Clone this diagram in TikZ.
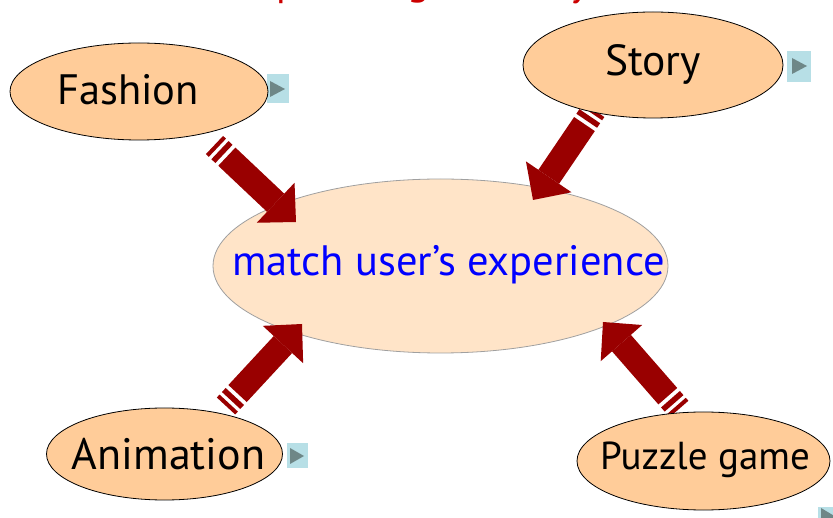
\documentclass[tikz,border=0pt]{standalone}
\usepackage{fontspec}
\setmainfont{PT Sans}
\usetikzlibrary{arrows.meta,shapes.geometric}
\definecolor{peach}{RGB}{255,204,153}
\definecolor{centrefill}{RGB}{255,228,200}
\definecolor{centreline}{RGB}{160,160,160}
\definecolor{arrowred}{RGB}{153,0,0}
\definecolor{btnblue}{RGB}{183,223,230}
\definecolor{btntri}{RGB}{110,135,135}
\definecolor{titlered}{RGB}{204,0,0}
\begin{document}
\begin{tikzpicture}[x=1pt,y=-1pt,
  outer/.style={ellipse, draw=black, line width=0.8pt, fill=peach, inner sep=0pt},
  centre/.style={ellipse, draw=centreline, line width=0.8pt, fill=centrefill, inner sep=0pt},
  lbl/.style={anchor=base, inner sep=0pt, text=black},
  stripearrow/.style={draw=arrowred, line width=25pt,
     dash pattern=on 4pt off 3.5pt on 5.5pt off 4pt on 600pt off 0pt,
     -{Triangle[line width=0pt, width=55pt, length=28pt, fill=arrowred]}},
  btn/.style={fill=btnblue},
  btnarrow/.style={fill=btntri},
  titlefrag/.style={anchor=base west, inner sep=0pt, text=titlered, font=\fontsize{41}{41}\selectfont}]
\useasboundingbox (0,0) rectangle (833,518);
\fill[white] (0,0) rectangle (833,518);

% title fragments (cut off at the top edge)
\node[titlefrag] (t1) at (276,-4) {p};
\node[titlefrag] (t2) at (407,-5) {g};
\node[titlefrag] (t3) at (570,-4) {y};

% centre ellipse
\node[centre, minimum width=455pt, minimum height=174pt] (centre) at (440.5,266) {};
\node[lbl, text=blue, font=\fontsize{42.5}{42.5}\selectfont] (centretext) at (448.5,276) {match user’s experience};

% arrows
\coordinate (fashionTail) at (214.5,145);
\coordinate (fashionTip) at (296,222);
\coordinate (storyTail) at (594,110);
\coordinate (storyTip) at (533,200);
\coordinate (animTail) at (226,406);
\coordinate (animTip) at (302,324);
\coordinate (puzzleTail) at (679,409);
\coordinate (puzzleTip) at (603,322);
\draw[stripearrow] (fashionTail) -- (fashionTip);
\draw[stripearrow] (storyTail) -- (storyTip);
\draw[stripearrow] (animTail) -- (animTip);
\draw[stripearrow] (puzzleTail) -- (puzzleTip);

% buttons
\fill[btn] (267,74) rectangle (289,103);
\fill[btnarrow] (270,81) -- (285,89) -- (270,97) -- cycle;
\fill[btn] (787,51) rectangle (811,82);
\fill[btnarrow] (792,58) -- (807,66) -- (792,74) -- cycle;
\fill[btn] (287,443) rectangle (308,468);
\fill[btnarrow] (290,448) -- (304,456) -- (290,464) -- cycle;
\fill[btn] (818,507) rectangle (840,536);
\fill[btnarrow] (821,508) -- (836,517) -- (821,526) -- cycle;

% outer ellipses
\node[outer, minimum width=258pt, minimum height=97pt] (fashion) at (139,91.5) {};
\node[lbl, font=\fontsize{42.5}{42.5}\selectfont] at (128,105) {Fashion};
\node[outer, minimum width=260pt, minimum height=106pt] (story) at (653,65) {};
\node[lbl, font=\fontsize{43.5}{43.5}\selectfont] at (653,76) {Story};
\node[outer, minimum width=236pt, minimum height=92pt] (animation) at (164.5,454) {};
\node[lbl, font=\fontsize{44}{44}\selectfont] at (168.5,470) {Animation};
\node[outer, minimum width=253pt, minimum height=98pt] (puzzle) at (703.5,461) {};
\node[lbl, font=\fontsize{39}{39}\selectfont] at (705,470) {Puzzle game};
\end{tikzpicture}
\end{document}
